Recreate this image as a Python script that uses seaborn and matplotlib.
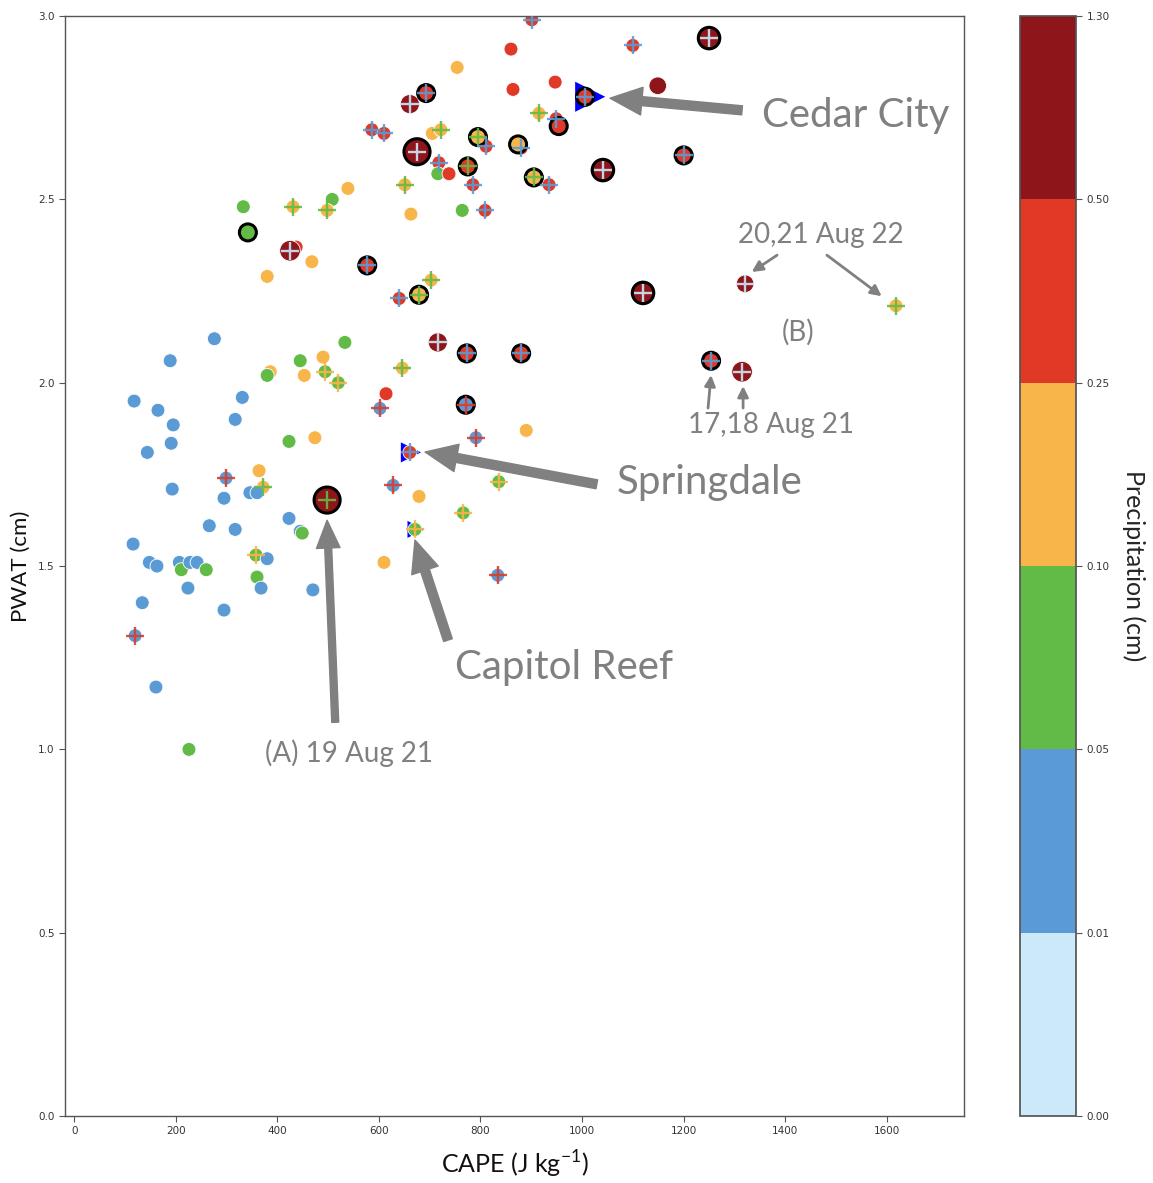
import numpy as np
import pandas as pd
import matplotlib
matplotlib.use("Agg")
import matplotlib.pyplot as plt
import seaborn as sns
from matplotlib.colors import ListedColormap, BoundaryNorm
from matplotlib.cm import ScalarMappable

nan = np.nan

# CAPE (J/kg), PWAT (cm), observed precipitation (cm), forecast precipitation (cm, nan = none),
# and whether a flash flood was reported for the event
cape = [901, 860, 754, 864, 693, 661, 586, 610, 705, 722,
        675, 795, 811, 874, 880, 718, 716, 738, 775, 785,
        764, 809, 651, 663, 539, 508, 333, 431, 498, 342,
        437, 425, 468, 380, 577, 703, 679, 640, 947, 1100,
        1250, 1149, 1006, 915, 949, 954, 1041, 905, 935, 1200,
        1120, 1321, 1618, 1254, 1315, 533, 490, 445, 386, 380,
        453, 494, 520, 331, 317, 716, 773, 880, 646, 614,
        602, 771, 423, 474, 890, 791, 661, 364, 372, 346,
        360, 299, 628, 679, 836, 498, 766, 423, 445, 449,
        317, 671, 276, 189, 118, 165, 195, 191, 144, 193,
        295, 266, 116, 148, 163, 207, 211, 228, 242, 260,
        358, 380, 360, 224, 368, 470, 134, 295, 120, 161,
        226, 610, 834]
pwat = [2.99, 2.91, 2.86, 2.80, 2.79, 2.76, 2.69, 2.68, 2.68, 2.69,
        2.63, 2.67, 2.645, 2.65, 2.64, 2.60, 2.57, 2.57, 2.59, 2.54,
        2.47, 2.47, 2.54, 2.46, 2.53, 2.50, 2.48, 2.48, 2.47, 2.41,
        2.37, 2.36, 2.33, 2.29, 2.32, 2.28, 2.24, 2.23, 2.82, 2.92,
        2.94, 2.81, 2.78, 2.735, 2.72, 2.70, 2.58, 2.56, 2.54, 2.62,
        2.245, 2.27, 2.21, 2.06, 2.03, 2.11, 2.07, 2.06, 2.03, 2.02,
        2.02, 2.03, 2.00, 1.96, 1.90, 2.11, 2.08, 2.08, 2.04, 1.97,
        1.93, 1.94, 1.84, 1.85, 1.87, 1.85, 1.81, 1.76, 1.715, 1.70,
        1.70, 1.74, 1.72, 1.69, 1.73, 1.68, 1.645, 1.63, 1.595, 1.59,
        1.60, 1.60, 2.12, 2.06, 1.95, 1.925, 1.885, 1.835, 1.81, 1.71,
        1.685, 1.61, 1.56, 1.51, 1.50, 1.51, 1.49, 1.51, 1.51, 1.49,
        1.53, 1.52, 1.47, 1.44, 1.44, 1.435, 1.40, 1.38, 1.31, 1.17,
        1.00, 1.51, 1.475]
obs_precip = [0.35, 0.35, 0.17, 0.35, 0.35, 0.80, 0.35, 0.35, 0.17, 0.17,
              0.95, 0.17, 0.35, 0.17, 0.35, 0.35, 0.07, 0.35, 0.35, 0.35,
              0.07, 0.35, 0.17, 0.17, 0.17, 0.07, 0.07, 0.17, 0.17, 0.07,
              0.35, 0.90, 0.17, 0.17, 0.35, 0.17, 0.17, 0.35, 0.35, 0.35,
              0.70, 0.70, 0.35, 0.17, 0.35, 0.35, 0.70, 0.17, 0.35, 0.35,
              0.70, 0.70, 0.17, 0.35, 0.90, 0.07, 0.17, 0.07, 0.17, 0.07,
              0.17, 0.07, 0.07, 0.03, 0.03, 0.80, 0.35, 0.35, 0.17, 0.35,
              0.03, 0.03, 0.07, 0.17, 0.17, 0.03, 0.35, 0.17, 0.17, 0.03,
              0.03, 0.03, 0.03, 0.17, 0.07, 0.95, 0.07, 0.03, 0.03, 0.07,
              0.03, 0.07, 0.03, 0.03, 0.03, 0.03, 0.03, 0.03, 0.03, 0.03,
              0.03, 0.03, 0.03, 0.03, 0.03, 0.03, 0.07, 0.03, 0.03, 0.07,
              0.07, 0.03, 0.07, 0.03, 0.03, 0.03, 0.03, 0.03, 0.03, 0.03,
              0.07, 0.17, 0.03]
fcst_precip = [0.03, nan, nan, nan, 0.03, 0.005, 0.03, 0.03, nan, 0.07,
               0.005, 0.07, 0.03, nan, 0.03, 0.03, nan, nan, 0.07, 0.03,
               nan, 0.03, 0.07, nan, nan, nan, nan, 0.07, 0.07, nan,
               nan, 0.005, nan, nan, 0.03, 0.07, 0.07, 0.03, nan, 0.03,
               0.005, nan, 0.03, 0.07, 0.03, nan, 0.005, 0.07, 0.03, 0.03,
               0.005, 0.005, 0.07, 0.03, 0.005, nan, nan, nan, nan, nan,
               nan, 0.17, 0.17, nan, nan, 0.005, 0.03, 0.03, 0.07, nan,
               0.35, 0.35, nan, nan, nan, 0.35, 0.03, nan, 0.07, nan,
               nan, 0.35, 0.35, nan, 0.17, 0.07, 0.17, nan, nan, nan,
               nan, 0.17, nan, nan, nan, nan, nan, nan, nan, nan,
               nan, nan, nan, nan, nan, nan, nan, nan, nan, nan,
               0.17, nan, nan, nan, nan, nan, nan, nan, 0.35, nan,
               nan, nan, 0.35]
flood = [0, 0, 0, 0, 1, 0, 0, 0, 0, 0,
         1, 1, 0, 1, 0, 0, 0, 0, 1, 0,
         0, 0, 0, 0, 0, 0, 0, 0, 0, 1,
         0, 0, 0, 0, 1, 0, 1, 0, 0, 0,
         1, 0, 1, 0, 0, 1, 1, 1, 0, 1,
         1, 0, 0, 1, 0, 0, 0, 0, 0, 0,
         0, 0, 0, 0, 0, 0, 1, 1, 0, 0,
         0, 1, 0, 0, 0, 0, 0, 0, 0, 0,
         0, 0, 0, 0, 0, 1, 0, 0, 0, 0,
         0, 0, 0, 0, 0, 0, 0, 0, 0, 0,
         0, 0, 0, 0, 0, 0, 0, 0, 0, 0,
         0, 0, 0, 0, 0, 0, 0, 0, 0, 0,
         0, 0, 0]

# Stations highlighted with a triangle
station_names = ["Cedar City", "Springdale", "Capitol Reef"]
station_cape = [1016, 663, 673]
station_pwat = [2.78, 1.81, 1.60]

# Precipitation classes
precip_bounds = [0.00, 0.01, 0.05, 0.10, 0.25, 0.50, 1.30]
precip_colors = ["#cce9fa", "#5b9bd5", "#61bb46", "#f8b54a", "#e03a27", "#8e1519"]

x_ticks = [0, 200, 400, 600, 800, 1000, 1200, 1400, 1600]
y_ticks = [0.0, 0.5, 1.0, 1.5, 2.0, 2.5, 3.0]

# ---------------------------------------------------------------------------
sns.set_theme(style="ticks")
plt.rcParams["font.family"] = ["Lato", "DejaVu Sans"]
plt.rcParams["mathtext.fontset"] = "custom"
plt.rcParams["mathtext.rm"] = "Lato"

cmap = ListedColormap(precip_colors)
norm = BoundaryNorm(precip_bounds, cmap.N)

df = pd.DataFrame({"cape": cape, "pwat": pwat, "obs": obs_precip,
                   "fcst": fcst_precip, "flood": flood})
heavy = np.clip(df["obs"] - 0.5, 0, None)
df["area"] = (100 + 300 * heavy) * np.where(df["flood"] == 1, 1.5, 1.0)

fig = plt.figure(figsize=(11.53, 11.83), dpi=100)
ax = fig.add_axes([0.0564, 0.0566, 0.7797, 0.9298])
cax = fig.add_axes([0.8847, 0.0566, 0.0486, 0.9298])

# station triangles underneath the event markers
station_area = [470, 210, 150]
ax.scatter(station_cape, station_pwat, marker=">", s=station_area,
           color="#0000ff", linewidths=0, zorder=1.5)

plain = df[df["flood"] == 0]
sns.scatterplot(data=plain, x="cape", y="pwat", hue="obs", palette=cmap,
                hue_norm=norm, s=plain["area"].to_numpy(), edgecolor="white",
                linewidth=0.6, legend=False, ax=ax, zorder=2)

flooded = df[df["flood"] == 1]
sns.scatterplot(data=flooded, x="cape", y="pwat", hue="obs", palette=cmap,
                hue_norm=norm, s=flooded["area"].to_numpy(), edgecolor="black",
                linewidth=2.2, legend=False, ax=ax, zorder=3)

crosses = df[df["fcst"].notna()]
sns.scatterplot(data=crosses, x="cape", y="pwat", hue="fcst", palette=cmap,
                hue_norm=norm, marker="+", s=170, linewidth=1.7, alpha=0.9,
                legend=False, ax=ax, zorder=4)

ax.set_xlim(-18, 1752)
ax.set_ylim(0, 3.0)
ax.set_xticks(x_ticks)
ax.set_yticks(y_ticks)
ax.set_yticklabels([f"{v:.1f}" for v in y_ticks])
ax.tick_params(axis="both", labelsize=7.5, length=4, width=0.8, color="#555555",
               labelcolor="#333333", labelfontfamily="DejaVu Sans")
for sp in ax.spines.values():
    sp.set_color("#555555")
    sp.set_linewidth(1.0)
ax.set_xlabel(r"CAPE (J kg$^{\mathregular{-1}}$)", fontsize=18, labelpad=9, color="#111111")
ax.set_ylabel("PWAT (cm)", fontsize=16, labelpad=5, color="#111111")

# colorbar with evenly spaced classes
cb = fig.colorbar(ScalarMappable(norm=norm, cmap=cmap), cax=cax,
                  ticks=precip_bounds, spacing="uniform", format="%.2f")
cb.outline.set_edgecolor("#555555")
cax.tick_params(labelsize=7.5, length=4, width=0.8, color="#555555",
                labelcolor="#333333", labelfontfamily="DejaVu Sans")
cb.set_label("Precipitation (cm)", rotation=270, fontsize=18, labelpad=26)

# annotations
grey = "#808080"
big_arrow = dict(arrowstyle="simple,head_length=2.3,head_width=2.0,tail_width=0.65",
                 mutation_scale=10, color=grey, shrinkA=0, shrinkB=0)
mid_arrow = dict(arrowstyle="simple,head_length=2.0,head_width=1.7,tail_width=0.5",
                 mutation_scale=10, color=grey, shrinkA=0, shrinkB=0)
thin_arrow = dict(arrowstyle="-|>", mutation_scale=16, lw=2, color=grey,
                  shrinkA=0, shrinkB=0)

ax.annotate("", xy=(1055, 2.776), xytext=(1315, 2.743), arrowprops=big_arrow)
ax.text(1354, 2.730, "Cedar City", fontsize=29, color=grey, va="center", ha="left")

ax.annotate("", xy=(691, 1.811), xytext=(1029, 1.723), arrowprops=big_arrow)
ax.text(1069, 1.729, "Springdale", fontsize=29, color=grey, va="center", ha="left")

ax.annotate("", xy=(671, 1.571), xytext=(736, 1.298), arrowprops=big_arrow)
ax.text(750, 1.222, "Capitol Reef", fontsize=29, color=grey, va="center", ha="left")

ax.annotate("", xy=(498, 1.625), xytext=(514, 1.074), arrowprops=mid_arrow)
ax.text(376, 0.990, "(A) 19 Aug 21", fontsize=20, color=grey, va="center", ha="left")

ax.annotate("", xy=(1334, 2.302), xytext=(1384, 2.348), arrowprops=thin_arrow)
ax.annotate("", xy=(1590, 2.236), xytext=(1482, 2.348), arrowprops=thin_arrow)
ax.text(1307, 2.402, "20,21 Aug 22", fontsize=20, color=grey, va="center", ha="left")
ax.text(1393, 2.138, "(B)", fontsize=20, color=grey, va="center", ha="left")

ax.annotate("", xy=(1254, 2.021), xytext=(1248, 1.931), arrowprops=thin_arrow)
ax.annotate("", xy=(1317, 1.991), xytext=(1317, 1.931), arrowprops=thin_arrow)
ax.text(1208, 1.884, "17,18 Aug 21", fontsize=20, color=grey, va="center", ha="left")

fig.savefig("out.png", dpi=100)
